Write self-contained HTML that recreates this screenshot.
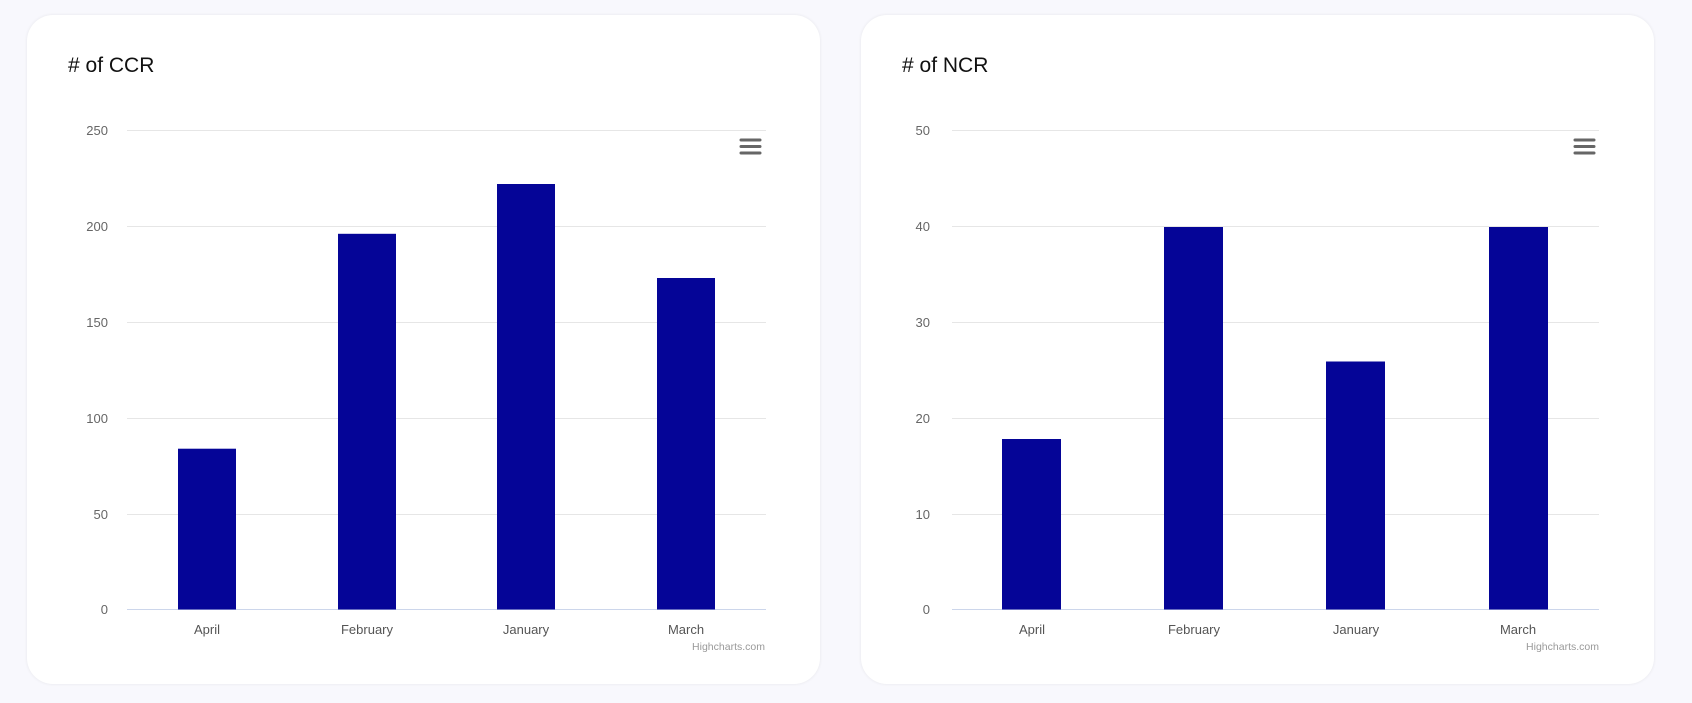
<!DOCTYPE html>
<html><head><style>
body{margin:0;width:1692px;height:703px;background:#f8f8fd;position:relative;overflow:hidden;font-family:"Liberation Sans",sans-serif}
.card{position:absolute;top:15px;width:793px;height:669px;background:#fff;border-radius:26px;box-shadow:0 0 3px rgba(0,0,0,0.08)}
svg{position:absolute;left:0;top:0}
</style></head><body>
<div class="card" style="left:27px"></div>
<div class="card" style="left:861px"></div>
<svg width="1692" height="703" font-family="Liberation Sans, sans-serif">
<g>
<text x="68" y="72" font-size="21" fill="#111">#  of CCR</text>
<g stroke="#e6e6e6" stroke-width="1">
<line x1="127" x2="766" y1="130.5" y2="130.5"/><line x1="127" x2="766" y1="226.5" y2="226.5"/><line x1="127" x2="766" y1="322.5" y2="322.5"/><line x1="127" x2="766" y1="418.5" y2="418.5"/><line x1="127" x2="766" y1="514.5" y2="514.5"/>
</g>
<line x1="127" x2="766" y1="609.5" y2="609.5" stroke="#ccd6eb"/>
<g font-size="13" fill="#666" text-anchor="end">
<text x="108" y="135">250</text><text x="108" y="231">200</text><text x="108" y="327">150</text><text x="108" y="423">100</text><text x="108" y="519">50</text><text x="108" y="614">0</text>
</g>
<g fill="#050597">
<rect x="178" y="448.7" width="58" height="160.8"/>
<rect x="338" y="233.8" width="58" height="375.7"/>
<rect x="497" y="184" width="58" height="425.5"/>
<rect x="657" y="278" width="58" height="331.5"/>
</g>
<g font-size="13" fill="#555" text-anchor="middle">
<text x="207" y="634">April</text><text x="367" y="634">February</text><text x="526" y="634">January</text><text x="686" y="634">March</text>
</g>
<text x="765" y="650" font-size="10.5" fill="#999" text-anchor="end">Highcharts.com</text>
<g stroke="#666" stroke-width="3" stroke-linecap="round"><line x1="741" x2="760" y1="140" y2="140"/><line x1="741" x2="760" y1="146.5" y2="146.5"/><line x1="741" x2="760" y1="153" y2="153"/></g>
</g>
<g>
<text x="902" y="72" font-size="21" fill="#111"># of NCR</text>
<g stroke="#e6e6e6" stroke-width="1">
<line x1="952" x2="1599" y1="130.5" y2="130.5"/><line x1="952" x2="1599" y1="226.5" y2="226.5"/><line x1="952" x2="1599" y1="322.5" y2="322.5"/><line x1="952" x2="1599" y1="418.5" y2="418.5"/><line x1="952" x2="1599" y1="514.5" y2="514.5"/>
</g>
<line x1="952" x2="1599" y1="609.5" y2="609.5" stroke="#ccd6eb"/>
<g font-size="13" fill="#666" text-anchor="end">
<text x="930" y="135">50</text><text x="930" y="231">40</text><text x="930" y="327">30</text><text x="930" y="423">20</text><text x="930" y="519">10</text><text x="930" y="614">0</text>
</g>
<g fill="#050597">
<rect x="1002" y="439" width="59" height="170.5"/>
<rect x="1164" y="227" width="59" height="382.5"/>
<rect x="1326" y="361.5" width="59" height="248"/>
<rect x="1489" y="227" width="59" height="382.5"/>
</g>
<g font-size="13" fill="#555" text-anchor="middle">
<text x="1032" y="634">April</text><text x="1194" y="634">February</text><text x="1356" y="634">January</text><text x="1518" y="634">March</text>
</g>
<text x="1599" y="650" font-size="10.5" fill="#999" text-anchor="end">Highcharts.com</text>
<g stroke="#666" stroke-width="3" stroke-linecap="round"><line x1="1575" x2="1594" y1="140" y2="140"/><line x1="1575" x2="1594" y1="146.5" y2="146.5"/><line x1="1575" x2="1594" y1="153" y2="153"/></g>
</g>
</svg>
</body></html>
